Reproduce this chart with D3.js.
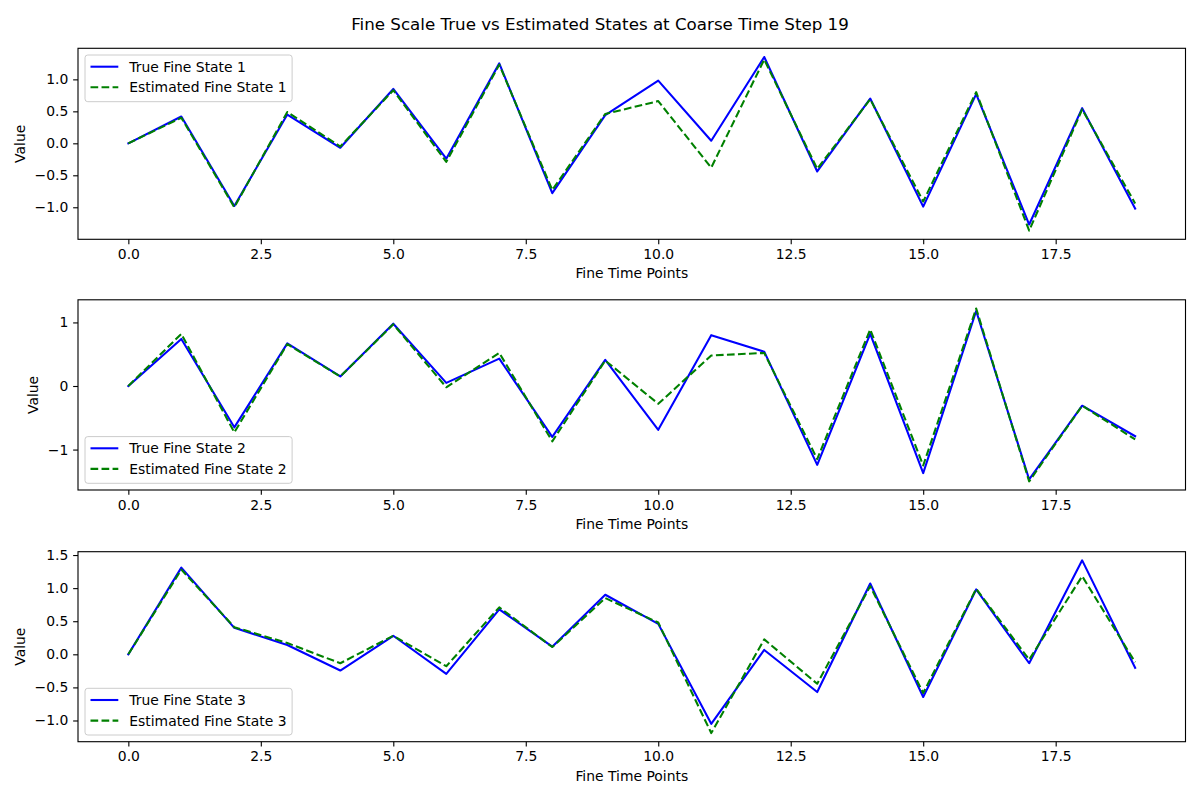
<!DOCTYPE html>
<html>
<head>
<meta charset="utf-8">
<script src="https://cdn.jsdelivr.net/npm/d3@7"></script>
<style>
  html, body { margin: 0; padding: 0; background: #fff; }
  svg { display: block; font-family: "DejaVu Sans", sans-serif; }
</style>
</head>
<body>
<svg id="chart" width="1200" height="800"></svg>
<script>
const titleText = "Fine Scale True vs Estimated States at Coarse Time Step 19";
const timePoints = d3.range(0, 20);
const xTicks = [0, 2.5, 5, 7.5, 10, 12.5, 15, 17.5];

const trueState1 = [0, 0.42, -0.98, 0.45, -0.07, 0.85, -0.24, 1.25, -0.78, 0.44, 0.98, 0.04, 1.35, -0.44, 0.70, -0.99, 0.77, -1.27, 0.55, -1.02];
const estState1  = [0, 0.40, -1.00, 0.49, -0.05, 0.83, -0.29, 1.23, -0.73, 0.46, 0.66, -0.38, 1.31, -0.40, 0.69, -0.91, 0.80, -1.365, 0.53, -0.94];
const trueState2 = [0, 0.74, -0.65, 0.67, 0.15, 0.98, 0.05, 0.43, -0.80, 0.41, -0.69, 0.80, 0.54, -1.24, 0.82, -1.37, 1.18, -1.47, -0.31, -0.79];
const estState2  = [0, 0.82, -0.73, 0.66, 0.15, 0.97, -0.02, 0.52, -0.87, 0.40, -0.28, 0.48, 0.52, -1.15, 0.89, -1.25, 1.22, -1.50, -0.31, -0.84];
const trueState3 = [0, 1.31, 0.40, 0.14, -0.245, 0.28, -0.295, 0.68, 0.115, 0.90, 0.46, -1.05, 0.066, -0.57, 1.07, -0.645, 0.98, -0.135, 1.42, -0.205];
const estState3  = [0, 1.28, 0.41, 0.17, -0.135, 0.28, -0.18, 0.71, 0.11, 0.85, 0.48, -1.19, 0.225, -0.445, 1.03, -0.585, 0.99, -0.08, 1.18, -0.12];

const yTicks1 = [-1.0, -0.5, 0.0, 0.5, 1.0];
const yTicks2 = [-1, 0, 1];
const yTicks3 = [-1.0, -0.5, 0.0, 0.5, 1.0, 1.5];

const trueLabels = ["True Fine State 1", "True Fine State 2", "True Fine State 3"];
const estLabels = ["Estimated Fine State 1", "Estimated Fine State 2", "Estimated Fine State 3"];
const xLabelText = "Fine Time Points";
const yLabelText = "Value";

const panels = [
  { tru: trueState1, est: estState1, ticks: yTicks1, fmt: ".1f", top: 48.3, bottom: 239.3, legend: "upper" },
  { tru: trueState2, est: estState2, ticks: yTicks2, fmt: "d", top: 299.8, bottom: 490.0, legend: "lower" },
  { tru: trueState3, est: estState3, ticks: yTicks3, fmt: ".1f", top: 551.7, bottom: 741.7, legend: "lower" }
];

const svg = d3.select("#chart");
const left = 78, right = 1185.5;
const tickFont = 13.9;
const lineW = 2.08;
const dash = "7.7,3.33";
const minus = s => s.replace("-", "\u2212");

svg.append("text")
  .attr("x", 600).attr("y", 30)
  .attr("text-anchor", "middle")
  .attr("font-size", 16.7)
  .attr("fill", "#000")
  .text(titleText);

panels.forEach((p, i) => {
  const all = p.tru.concat(p.est);
  const lo = d3.min(all), hi = d3.max(all), r = hi - lo;
  const x = d3.scaleLinear().domain([-0.95, 19.95]).range([left, right]);
  const y = d3.scaleLinear().domain([lo - 0.05 * r, hi + 0.05 * r]).range([p.bottom, p.top]);
  const g = svg.append("g");

  const clipId = "clip" + i;
  svg.append("clipPath").attr("id", clipId).append("rect")
    .attr("x", left).attr("y", p.top).attr("width", right - left).attr("height", p.bottom - p.top);

  const line = d3.line().x((d, j) => x(timePoints[j])).y(d => y(d));
  const plot = g.append("g").attr("clip-path", `url(#${clipId})`);
  plot.append("path").datum(p.tru)
    .attr("d", line).attr("fill", "none").attr("stroke", "#0000ff")
    .attr("stroke-width", lineW).attr("stroke-linejoin", "round").attr("stroke-linecap", "square");
  plot.append("path").datum(p.est)
    .attr("d", line).attr("fill", "none").attr("stroke", "#008000")
    .attr("stroke-width", lineW).attr("stroke-dasharray", dash).attr("stroke-linejoin", "round");

  // axes
  const xAxis = d3.axisBottom(x).tickValues(xTicks).tickFormat(d3.format(".1f"))
    .tickSizeInner(4.86).tickSizeOuter(0).tickPadding(4.86);
  const gx = g.append("g").attr("transform", `translate(0,${p.bottom})`).call(xAxis);
  const yAxis = d3.axisLeft(y).tickValues(p.ticks).tickFormat(d => minus(d3.format(p.fmt)(d)))
    .tickSizeInner(4.86).tickSizeOuter(0).tickPadding(4.86);
  const gy = g.append("g").attr("transform", `translate(${left},0)`).call(yAxis);
  [gx, gy].forEach(ax => {
    ax.select(".domain").remove();
    ax.selectAll("line").attr("stroke", "#000").attr("stroke-width", 1.11);
    ax.selectAll("text").attr("font-size", tickFont).attr("fill", "#000")
      .attr("font-family", "DejaVu Sans, sans-serif");
  });

  // spines
  g.append("rect").attr("x", left).attr("y", p.top)
    .attr("width", right - left).attr("height", p.bottom - p.top)
    .attr("fill", "none").attr("stroke", "#000").attr("stroke-width", 1.11);

  // x label
  g.append("text").attr("x", (left + right) / 2).attr("y", p.bottom + 39)
    .attr("text-anchor", "middle").attr("font-size", tickFont).attr("fill", "#000")
    .text(xLabelText);

  // y label
  let minX = Infinity;
  gy.selectAll("text").each(function() {
    const b = this.getBBox();
    const m = this.getCTM();
    minX = Math.min(minX, b.x + m.e);
  });
  const yc = (p.top + p.bottom) / 2;
  g.append("text").attr("transform", `translate(${minX - 9.6},${yc}) rotate(-90)`)
    .attr("text-anchor", "middle").attr("font-size", tickFont).attr("fill", "#000")
    .text(yLabelText);

  // legend
  const boxH = 46.7;
  const boxX = left + 7;
  const boxY = p.legend === "upper" ? p.top + 6.7 : p.bottom - 6.7 - boxH;
  const lg = g.append("g");
  const rect = lg.append("rect").attr("x", boxX).attr("y", boxY)
    .attr("height", boxH).attr("rx", 2.8).attr("ry", 2.8)
    .attr("fill", "#fff").attr("fill-opacity", 0.8)
    .attr("stroke", "#cccccc").attr("stroke-width", 1);
  const items = [
    { label: trueLabels[i], color: "#0000ff", dash: null },
    { label: estLabels[i], color: "#008000", dash: dash }
  ];
  let maxW = 0;
  items.forEach((it, k) => {
    const cy = boxY + 11.7 + k * 20.6;
    const ln = lg.append("line").attr("x1", boxX + 5.5).attr("x2", boxX + 33.3)
      .attr("y1", cy).attr("y2", cy).attr("stroke", it.color).attr("stroke-width", lineW);
    if (it.dash) ln.attr("stroke-dasharray", it.dash);
    const t = lg.append("text").attr("x", boxX + 44.3).attr("y", cy).attr("dy", "0.36em")
      .attr("font-size", tickFont).attr("fill", "#000").text(it.label);
    maxW = Math.max(maxW, t.node().getComputedTextLength());
  });
  rect.attr("width", 44.3 + maxW + 5.6);
});
</script>
</body>
</html>
